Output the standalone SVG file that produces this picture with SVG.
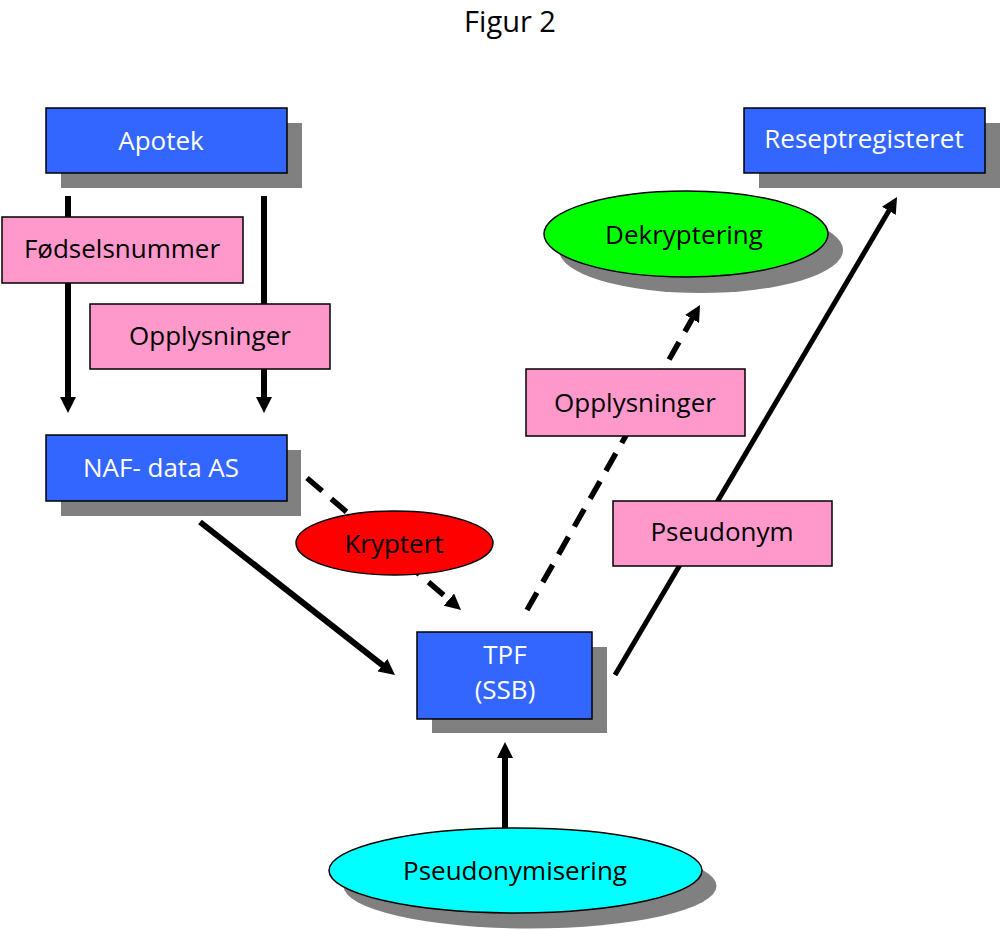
<svg xmlns="http://www.w3.org/2000/svg" width="1000" height="930" viewBox="0 0 1000 930">
<style>
text{font-family:"Open Sans","Noto Sans","Liberation Sans",sans-serif;font-size:26px;text-anchor:middle}
.w{fill:#fff}
.k{fill:#000}
.blue{fill:#3366ff;stroke:#000;stroke-width:1.5}
.pink{fill:#ff99cc;stroke:#000;stroke-width:1.5}
.sh{fill:#808080}
.c{stroke:#000;stroke-width:6;fill:none}
.d{stroke-dasharray:20 12;stroke-width:5.5}
</style>
<defs>
<marker id="ah" markerUnits="userSpaceOnUse" markerWidth="16" markerHeight="16" refX="2" refY="8" orient="auto">
<path d="M0,0 L16,8 L0,16 z" fill="#000"/>
</marker>
</defs>
<text x="510" y="32" class="k" style="font-size:29px">Figur 2</text>
<g id="connectors">
<line class="c" x1="68" y1="196" x2="68" y2="399" marker-end="url(#ah)"/>
<line class="c" x1="264" y1="196" x2="264" y2="399" marker-end="url(#ah)"/>
<line class="c" x1="200" y1="522" x2="384" y2="666.4" marker-end="url(#ah)"/>
<line class="c d" x1="307" y1="478" x2="450.4" y2="600.9" marker-end="url(#ah)"/>
<line class="c d" x1="527" y1="610" x2="693.1" y2="317.2" marker-end="url(#ah)"/>
<line class="c" style="stroke-width:5" x1="615" y1="675" x2="889.9" y2="209.1" marker-end="url(#ah)"/>
<line class="c" x1="505" y1="828" x2="505" y2="756" marker-end="url(#ah)"/>
</g>
<g id="apotek">
<rect class="sh" x="61" y="123" width="241" height="65"/>
<rect class="blue" x="46" y="108" width="241" height="65"/>
<text class="w" x="161" y="150">Apotek</text>
</g>
<g id="fodselsnummer">
<rect class="pink" x="2" y="217" width="241" height="66"/>
<text class="k" x="122" y="258">Fødselsnummer</text>
</g>
<g id="opplysninger1">
<rect class="pink" x="90" y="304" width="240" height="65"/>
<text class="k" x="210" y="345">Opplysninger</text>
</g>
<g id="naf">
<rect class="sh" x="61" y="450" width="240" height="66"/>
<rect class="blue" x="46" y="435" width="241" height="66"/>
<text class="w" x="161" y="477">NAF- data AS</text>
</g>
<g id="kryptert">
<ellipse cx="394.5" cy="543" rx="98.5" ry="32" fill="#ff0000" stroke="#000" stroke-width="1.5"/>
<text class="k" x="394" y="553">Kryptert</text>
</g>
<g id="tpf">
<rect class="sh" x="432" y="647" width="175" height="86"/>
<rect class="blue" x="417" y="632" width="175" height="87"/>
<text class="w" x="505" y="664">TPF</text>
<text class="w" x="505" y="699">(SSB)</text>
</g>
<g id="reseptregisteret">
<rect class="sh" x="759" y="123" width="241" height="65"/>
<rect class="blue" x="744" y="108" width="241" height="65"/>
<text class="w" x="864" y="148">Reseptregisteret</text>
</g>
<g id="dekryptering">
<ellipse class="sh" cx="701" cy="250" rx="142" ry="43"/>
<ellipse cx="686" cy="234" rx="142" ry="43" fill="#00ff00" stroke="#000" stroke-width="1.5"/>
<text class="k" x="684" y="244">Dekryptering</text>
</g>
<g id="opplysninger2">
<rect class="pink" x="526" y="369" width="219" height="67"/>
<text class="k" x="635" y="412">Opplysninger</text>
</g>
<g id="pseudonym">
<rect class="pink" x="613" y="501" width="219" height="65"/>
<text class="k" x="722" y="541">Pseudonym</text>
</g>
<g id="pseudonymisering">
<ellipse class="sh" cx="530" cy="886" rx="186.5" ry="42.5"/>
<ellipse cx="515.5" cy="870.5" rx="186.5" ry="42.5" fill="#00ffff" stroke="#000" stroke-width="1.5"/>
<text class="k" x="515" y="880">Pseudonymisering</text>
</g>
</svg>
